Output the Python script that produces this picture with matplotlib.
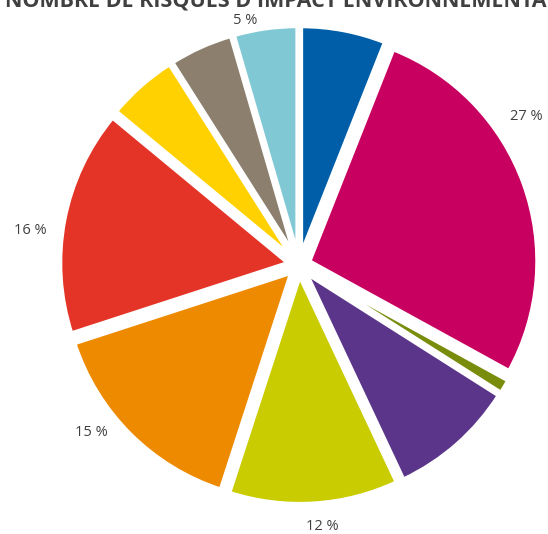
import matplotlib.pyplot as plt

# slice values (percent), clockwise from 12 o'clock
values = [6, 27, 1, 9, 12, 15, 16, 5, 4.5, 4.5]
colors = ['#005EA8', '#C8005F', '#7A8C0C', '#5B3589', '#C9CC00',
          '#EE8A00', '#E43427', '#FFD100', '#8C7F6E', '#80C9D4']
labels_txt = ['5 %', '27 %', '16 %', '15 %', '12 %']
title = "NOMBRE DE RISQUES D'IMPACT ENVIRONNEMENTAL"

plt.rcParams['font.family'] = ['Open Sans', 'DejaVu Sans']

W, H = 548, 534
fig = plt.figure(figsize=(W / 100, H / 100), dpi=100)
ax = fig.add_axes([0, 0, 1, 1])

# axes units are pixels here, so explode is an offset in pixels
cx, cy, r = 299, H - 265, 228
ax.pie(values, colors=colors, startangle=90, counterclock=False,
       explode=[11] * len(values), radius=r, center=(cx, cy),
       wedgeprops=dict(edgecolor='white', linewidth=3))

# pie() resets the limits, so set them afterwards
ax.set_xlim(0, W)
ax.set_ylim(0, H)
ax.set_aspect('equal')
ax.axis('off')

# percent labels placed like the excel best-fit ones (pixels from top-left)
label_pos = [(245, 20), (526, 116), (30, 231), (91, 432), (322, 527)]
for (x, y), t in zip(label_pos, labels_txt):
    ax.text(x, H - y, t, ha='center', va='center', fontsize=10.5, color='#404040')

ax.text(282, H - 1, title, ha='center', va='center', fontsize=15.5,
        fontweight='bold', color='#404040')

plt.savefig('out.png', dpi=100)
